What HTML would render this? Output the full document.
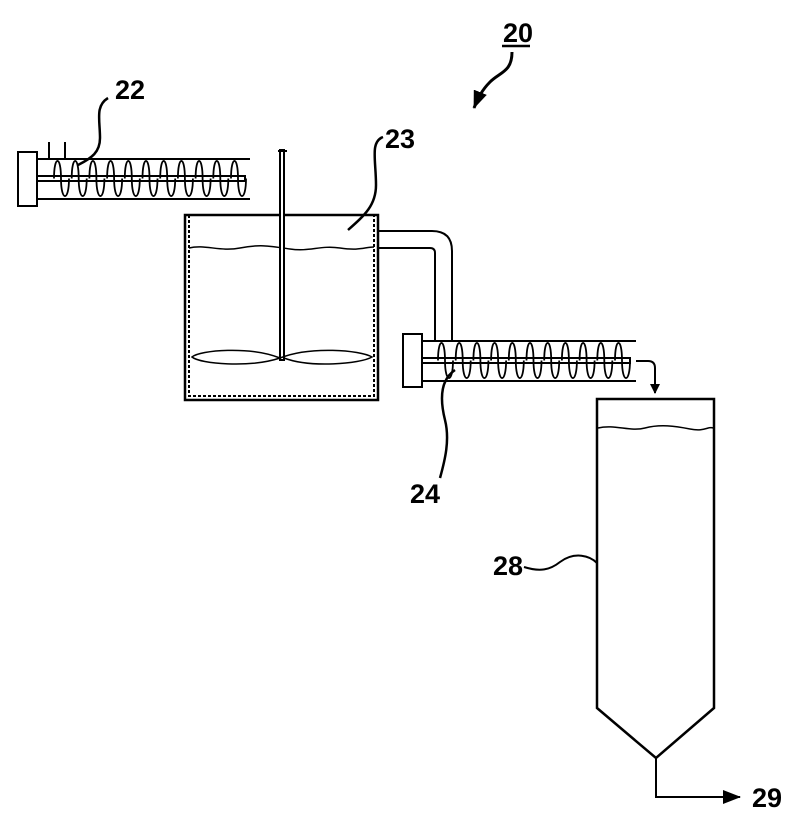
<!DOCTYPE html>
<html><head><meta charset="utf-8"><style>
html,body{margin:0;padding:0;background:#fff;width:800px;height:830px;overflow:hidden}
svg{display:block}
text{font-family:"Liberation Sans Narrow","Liberation Sans",sans-serif;font-size:27px;fill:#000;font-weight:bold}
</style></head><body>
<svg id="s" width="800" height="830" viewBox="0 0 800 830" fill="none" stroke="#000" stroke-width="2">
<defs><marker id="ah" markerWidth="10" markerHeight="10" refX="9" refY="5" orient="auto" markerUnits="userSpaceOnUse"><path d="M0,0 L10,5 L0,10 z" fill="#000" stroke="none"/></marker>
<marker id="ah2" markerWidth="18" markerHeight="14" refX="17" refY="7" orient="auto" markerUnits="userSpaceOnUse"><path d="M0,0 L18,7 L0,14 z" fill="#000" stroke="none"/></marker></defs>
<!-- 20 -->
<text x="503" y="42" stroke="none">20</text>
<line x1="502" y1="46" x2="530" y2="46" stroke-width="2.5"/>
<path d="M512,52 C512,72 500,72 490,82 C482,90 478,98 474,108" stroke-width="3" marker-end="url(#ah2)"/>
<!-- screw 22 -->
<text x="115" y="99" stroke="none">22</text>
<path d="M108,98 C95,106 100,120 100,138 C100,152 92,158 78,165" stroke-width="2.5"/>
<rect x="18" y="152" width="19" height="54"/>
<line x1="37" y1="159" x2="250" y2="159"/><line x1="37" y1="199" x2="250" y2="199"/>
<path d="M37,176 H245 V181 H37"/>
<line x1="49" y1="142" x2="49" y2="159"/><line x1="65" y1="142" x2="65" y2="159"/>
<g id="c1"></g>
<!-- tank 23 -->
<text x="385" y="148" stroke="none">23</text>
<path d="M383,137 C370,142 376,160 376,185 C376,205 365,215 348,230" stroke-width="2.5"/>
<rect x="185" y="215" width="193" height="185" stroke-width="2.5"/>
<path d="M189,215 V396 H374 V215" stroke-dasharray="3 2"/>
<path d="M189,248 C205,244 220,252 240,248 S270,246 290,249 S320,245 340,248 S365,247 374,247" stroke-width="1.5"/>
<rect x="280" y="150" width="4" height="210" fill="#fff"/>
<path d="M278,151 H287"/>
<path d="M280,358 C250,346 200,350 192,357 C200,364 250,368 280,358 C310,346 360,350 372,357 C360,364 310,368 284,358" stroke-width="1.5"/>
<!-- pipe -->
<path d="M378,231 H432 Q452,231 452,251 V340"/>
<path d="M378,248 H430 Q435,248 435,253 V340"/>
<!-- screw 24 -->
<rect x="403" y="334" width="19" height="53"/>
<line x1="422" y1="341" x2="636" y2="341"/><line x1="422" y1="381" x2="636" y2="381"/>
<path d="M422,358 H630 V363 H422"/>
<g id="c2"></g>
<path d="M636,361 H648 Q655,361 655,368 V393" marker-end="url(#ah)"/>
<text x="410" y="503" stroke="none">24</text>
<path d="M455,370 C440,380 440,400 445,420 C450,440 445,460 440,478" stroke-width="2.5"/>
<!-- hopper 28 -->
<path d="M597,399 H714 V708 L656,758 L597,708 Z" stroke-width="2.5"/>
<path d="M598,428 C615,424 630,432 645,428 S675,426 690,429 S708,426 713,428" stroke-width="1.5"/>
<text x="493" y="575" stroke="none">28</text>
<path d="M524,567 C540,572 550,570 560,562 C575,551 590,556 597,563" stroke-width="2"/>
<path d="M656,758 V797 H740" marker-end="url(#ah2)"/>
<text x="752" y="807" stroke="none">29</text>
</svg>
<script>
function coils(id,x0,n,step,yc,ry){var g=document.getElementById(id),h='';for(var i=0;i<n;i++){var cx=x0+i*step;h+='<path d="M'+(cx-6)+','+yc+' C'+(cx-6)+','+(yc-ry*1.3)+' '+(cx+1)+','+(yc-ry*1.3)+' '+(cx+1)+','+yc+' C'+(cx+1)+','+(yc+ry*1.3)+' '+(cx+9)+','+(yc+ry*1.3)+' '+(cx+9)+','+yc+'" stroke-width="1.8"/>';}g.innerHTML=h;}
coils('c1',60,11,17.7,178.5,18);
coils('c2',444,11,17.7,360.5,18);
</script>
</body></html>
